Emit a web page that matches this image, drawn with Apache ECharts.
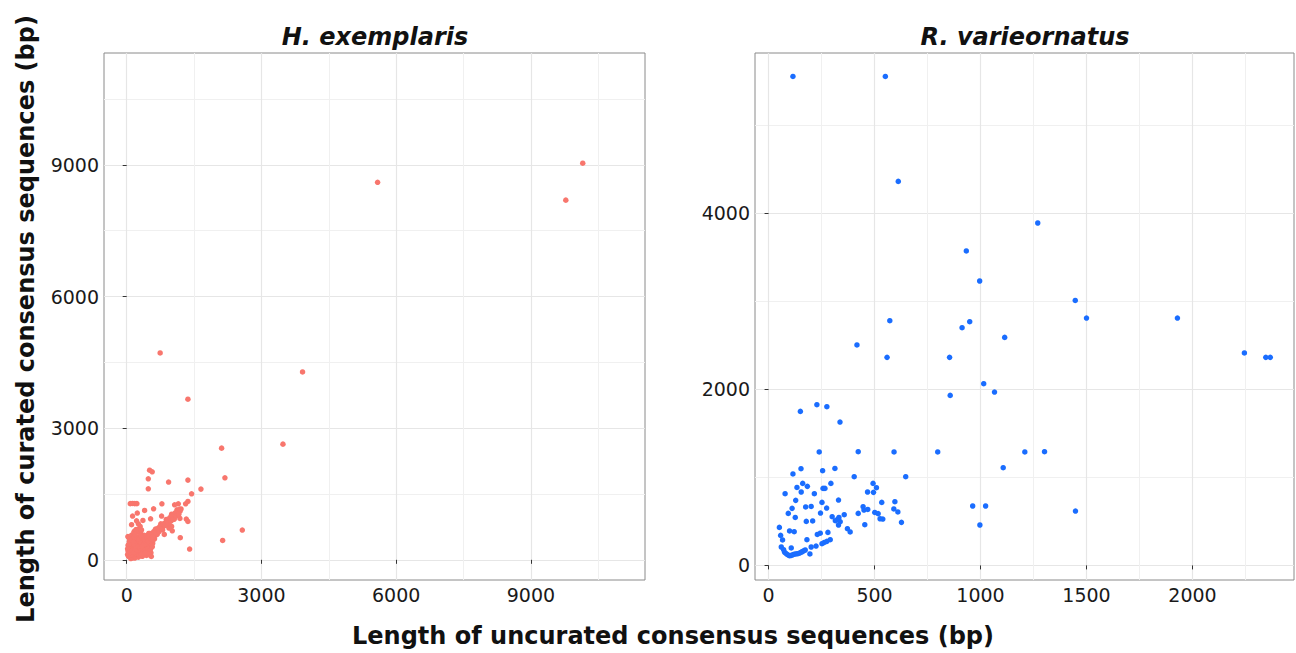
<!DOCTYPE html>
<html>
<head>
<meta charset="utf-8">
<script src="https://cdn.jsdelivr.net/npm/echarts@6/dist/echarts.min.js"></script>
<style>
html,body{margin:0;padding:0;background:#fff;}
#chart{width:1296px;height:653px;}
</style>
</head>
<body>
<div id="chart"></div>
<script>
// ---------- DATA ----------
const panelTitles = ['H. exemplaris', 'R. varieornatus'];
const xAxisTitle = 'Length of uncurated consensus sequences (bp)';
const yAxisTitle = 'Length of curated consensus sequences (bp)';

// H. exemplaris: [uncurated length, curated length]
const hexOutliers = [
  [10153,9038],[9776,8196],[5586,8603],[3915,4281],[745,4713],[1363,3660],
  [3479,2636],[2113,2545],[2187,1869],[2574,678],[2136,442],[1401,246]
];
const hexMid = [
  [510,2043],[568,2005],[481,1846],[933,1771],[1363,1816],[481,1618],[1653,1611],
  [1445,1504],[1363,1329],[1312,1277],[1149,1277],[1067,1254],[784,1277],
  [80,1280],[130,1285],[180,1280],[227,1280],[599,1163],[777,997],[399,1124],
  [236,1065],[131,997],[361,897],[220,890],[532,935],[1185,942],[1327,929],
  [1363,874],[1000,760],[1015,662],[837,578],[1193,503],[548,77],
  [109,800],[169,650],[300,760],[260,820],[844,800],[940,724]
];
const hexBlob = [
  [20,120],[40,80],[60,150],[80,60],[100,200],[120,110],[140,300],[150,60],[170,180],
  [190,250],[200,420],[210,90],[230,330],[250,150],[260,520],[270,240],[290,400],
  [300,100],[310,600],[320,280],[340,460],[350,180],[360,350],[380,560],[390,250],
  [400,130],[420,420],[430,300],[450,520],[460,200],[470,380],[490,600],[500,300],
  [520,450],[540,160],[560,520],[580,380],[600,640],[620,480],[640,560],[40,520],
  [60,420],[90,350],[110,560],[130,480],[160,620],[180,450],[210,690],[240,640],
  [280,700],[330,680],[60,280],[30,330],[120,40],[260,60],[350,80],[180,40],[90,30],
  [440,100],[500,120],[27,530],[213,685],
  [30,200],[50,240],[70,100],[100,70],[110,280],[130,360],[140,220],[160,100],[180,320],
  [200,140],[220,500],[230,180],[250,380],[270,460],[280,120],[300,200],[320,540],
  [340,240],[370,280],[380,460],[410,220],[430,550],[450,330],[470,260],[480,160],
  [510,380],[530,240],[550,420],[570,300],[590,460],[70,470],[100,440],[150,400],
  [170,520],[190,580],[50,360],[20,250],[40,170],[330,120],[420,160]
];
const hexBand = [
  [60,140],[90,120],[110,190],[130,150],[150,230],[170,200],[190,260],[210,230],
  [230,290],[250,260],[270,320],[290,300],[310,330],[330,360],[350,340],[370,400],
  [390,380],[410,430],[430,410],[450,470],[470,440],[490,500],[510,480],[530,540],
  [550,510],[570,580],[590,560],[610,610],[630,590],[650,650],[670,630],[690,690],
  [710,670],[730,720],[750,700],[770,760],[790,740],[810,790],[830,780],[850,830],
  [870,810],[890,860],[910,850],[930,900],[950,880],[970,930],[990,920],[1010,970],
  [1030,950],[1050,1010],[1070,990],[1090,1040],[1110,1030],[1130,1080],[1150,1070],
  [1170,1120],[1190,1110],[1210,1160],
  [200,310],[280,250],[360,450],[420,360],[520,600],[560,460],[640,700],[680,580],
  [760,820],[800,680],[880,920],[940,820],[1000,1040],[1060,930],[1120,1140],
  [80,170],[120,210],[160,170],[200,250],[240,220],[260,300],[300,270],[320,380],
  [340,310],[380,350],[400,450],[440,400],[460,500],[480,430],[500,540],[540,480],
  [560,560],[580,520],[620,640],[660,600],[700,720],[720,640],[740,760],[780,700],
  [820,820],[860,780],[900,900],[920,840],[960,960],[980,880],[1020,1000],[1040,920],
  [1080,1070],[1100,1000],[1140,1110],[1180,1150],[1160,1040]
];

// R. varieornatus: [uncurated length, curated length]
const rvaHigh = [
  [115,5557],[551,5557],[612,4364],[1270,3891],[933,3573],[996,3232],[1447,3011],
  [1500,2811],[1929,2811],[572,2781],[949,2769],[913,2701],[1114,2591],[417,2505],
  [559,2364],[854,2364],[2245,2414],[2346,2364],[2367,2364],
  [1015,2065],[1066,1970],[857,1932],[228,1826],[275,1803],[150,1750],[337,1629],
  [239,1289],[423,1292],[592,1289],[798,1289],[1209,1289],[1302,1292]
];
const rvaMid = [
  [1107,1110],[153,1099],[255,1076],[313,1102],[115,1039],[404,1008],[647,1008],
  [161,932],[183,898],[134,886],[294,932],[257,875],[266,875],[154,834],[216,815],
  [78,815],[493,932],[509,883],[467,834],[495,830],
  [128,739],[330,743],[252,716],[534,716],[596,724],[175,664],[201,670],[111,648],
  [274,652],[446,667],[468,636],[450,629],[591,641],[610,607],[963,675],[1024,675],
  [1448,618],[93,591],[245,595],[501,602],[517,588],[423,591],[357,576],[126,545],
  [300,553],[332,545],[539,527],[526,530],[627,489],[997,459],[454,462],
  [178,500],[208,505],[325,523],[338,497],[330,459],[315,508]
];
const rvaLow = [
  [51,432],[99,391],[121,383],[57,341],[66,289],[372,417],[385,380],[280,375],
  [230,352],[244,366],[181,292],[60,209],[71,178],[76,148],[83,135],[90,122],
  [98,110],[104,112],[111,118],[118,124],[126,130],[134,132],[142,136],[150,145],
  [158,155],[165,165],[173,175],[195,130],[201,209],[224,220],[252,247],[263,261],
  [275,273],[291,292],[107,198]
];

const hexXTicks = [0,3000,6000,9000];
const hexXMinor = [1500,4500,7500,10500];
const hexYTicks = [0,3000,6000,9000];
const hexYMinor = [1500,4500,7500,10500];
const rvaXTicks = [0,500,1000,1500,2000];
const rvaXMinor = [250,750,1250,1750,2250];
const rvaYTicks = [0,2000,4000];
const rvaYMinor = [1000,3000,5000];

const hexRange = {x:[-505,11539], y:[-460,11549]};
const rvaRange = {x:[-64,2479], y:[-166,5823]};

// ---------- CHART ----------
const FONT = 'DejaVu Sans';
const hexAll = hexOutliers.concat(hexMid, hexBlob, hexBand);
const rvaAll = rvaHigh.concat(rvaMid, rvaLow);

function majorAxis(grid, range, ticks, pos) {
  return {
    type:'value', gridIndex:grid, min:range[0], max:range[1], position:pos,
    axisLine:{show:false},
    axisTick:{show:true, inside:false, length:4, customValues:ticks, lineStyle:{color:'#333', width:1}},
    axisLabel:{show:true, customValues:ticks, color:'#1a1a1a', fontFamily:FONT, fontSize:19, margin:5,
      formatter:function(v){ return String(v); }},
    splitLine:{show:true, lineStyle:{color:'#E6E6E6', width:1.2}}
  };
}
function minorAxis(grid, range, ticks, pos) {
  return {
    type:'value', gridIndex:grid, min:range[0], max:range[1], position:pos,
    axisLine:{show:false},
    axisTick:{show:false, customValues:ticks},
    axisLabel:{show:false},
    splitLine:{show:true, lineStyle:{color:'#F0F0F0', width:1}}
  };
}

const chart = echarts.init(document.getElementById('chart'), null, {renderer:'svg'});
chart.setOption({
  backgroundColor:'#fff',
  animation:false,
  grid:[
    {left:104, top:53, width:541, height:527, show:true, borderColor:'#8a8a8a', borderWidth:1, backgroundColor:'transparent'},
    {left:755, top:53, width:539, height:527, show:true, borderColor:'#8a8a8a', borderWidth:1, backgroundColor:'transparent'}
  ],
  xAxis:[
    majorAxis(0, hexRange.x, hexXTicks, 'bottom'),
    minorAxis(0, hexRange.x, hexXMinor, 'top'),
    majorAxis(1, rvaRange.x, rvaXTicks, 'bottom'),
    minorAxis(1, rvaRange.x, rvaXMinor, 'top')
  ],
  yAxis:[
    majorAxis(0, hexRange.y, hexYTicks, 'left'),
    minorAxis(0, hexRange.y, hexYMinor, 'right'),
    majorAxis(1, rvaRange.y, rvaYTicks, 'left'),
    minorAxis(1, rvaRange.y, rvaYMinor, 'right')
  ],
  graphic:[
    {type:'text', x:375, y:37, style:{text:panelTitles[0], font:'italic bold 24px "DejaVu Sans"', fill:'#111', align:'center', verticalAlign:'middle'}},
    {type:'text', x:1025, y:37, style:{text:panelTitles[1], font:'italic bold 24px "DejaVu Sans"', fill:'#111', align:'center', verticalAlign:'middle'}},
    {type:'text', x:673, y:636, style:{text:xAxisTitle, font:'bold 24px "DejaVu Sans"', fill:'#111', align:'center', verticalAlign:'middle'}},
    {type:'text', x:26, y:319, rotation:Math.PI/2, style:{text:yAxisTitle, font:'bold 24px "DejaVu Sans"', fill:'#111', align:'center', verticalAlign:'middle'}}
  ],
  series:[
    {type:'scatter', name:panelTitles[0], xAxisIndex:0, yAxisIndex:0, data:hexAll, symbolSize:5.5, itemStyle:{color:'#F8766D', opacity:1}},
    {type:'scatter', name:panelTitles[1], xAxisIndex:2, yAxisIndex:2, data:rvaAll, symbolSize:5.5, itemStyle:{color:'#1A6DFF', opacity:1}}
  ]
});
</script>
</body>
</html>
